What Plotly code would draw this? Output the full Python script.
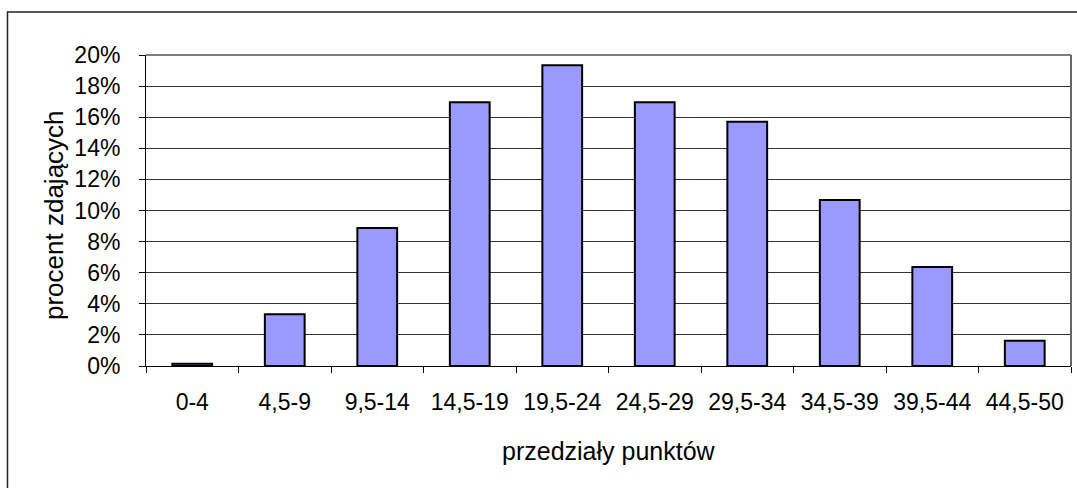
import plotly.graph_objects as go

categories = ["0-4", "4,5-9", "9,5-14", "14,5-19", "19,5-24", "24,5-29",
              "29,5-34", "34,5-39", "39,5-44", "44,5-50"]
percent_values = [0.15, 3.32, 8.87, 16.96, 19.34, 16.96, 15.71, 10.68, 6.37, 1.63]
y_ticks = [0, 2, 4, 6, 8, 10, 12, 14, 16, 18, 20]
y_tick_labels = ["0%", "2%", "4%", "6%", "8%", "10%", "12%", "14%", "16%", "18%", "20%"]
x_title = "przedziały punktów"
y_title = "procent zdających"

FONT = "Arial, Liberation Sans, sans-serif"
W, H = 1077, 488
L, R, T, B = 146, 1071, 55, 366
pw, ph = R - L, B - T

def px(x):
    return (x - L) / pw

def py(y):
    return (B - y) / ph

fig = go.Figure(go.Bar(
    x=categories, y=percent_values,
    marker=dict(color="#9999FF", line=dict(color="#000000", width=2)),
))

fig.update_layout(
    width=W, height=H,
    margin=dict(l=L, r=W - R, t=T, b=H - B, pad=0),
    paper_bgcolor="white", plot_bgcolor="white",
    bargap=0.57, showlegend=False,
    font=dict(family=FONT, size=23, color="#000000"),
    xaxis=dict(
        type="category", showgrid=False, showline=True, linecolor="#000000",
        linewidth=1, ticks="outside", tickson="boundaries", ticklen=6,
        tickcolor="#000000", ticklabelstandoff=15,
        tickfont=dict(family=FONT, size=23, color="#000000"),
    ),
    yaxis=dict(
        range=[0, 20], tickmode="array", tickvals=y_ticks, ticktext=y_tick_labels,
        showgrid=True, gridcolor="#333333", gridwidth=1, showline=True,
        linecolor="#000000", linewidth=1, ticks="outside", ticklen=6,
        tickcolor="#000000", ticklabelstandoff=14, zeroline=False,
        tickfont=dict(family=FONT, size=23, color="#000000"),
    ),
    annotations=[
        dict(text=x_title, xref="paper", yref="paper", x=px(609), y=py(451),
             showarrow=False, xanchor="center", yanchor="middle",
             font=dict(family=FONT, size=25, color="#000000")),
        dict(text=y_title, xref="paper", yref="paper", x=px(54), y=py(215),
             showarrow=False, xanchor="center", yanchor="middle", textangle=-90,
             font=dict(family=FONT, size=26, color="#000000")),
    ],
    shapes=[
        dict(type="line", xref="paper", yref="paper", x0=1, x1=1, y0=0, y1=1,
             line=dict(color="#666666", width=2)),
        dict(type="line", xref="paper", yref="paper", x0=0, x1=1, y0=1, y1=1,
             line=dict(color="#555555", width=1.5)),
        dict(type="rect", xref="paper", yref="paper",
             x0=px(7.5), x1=px(1085), y0=py(495), y1=py(12),
             line=dict(color="#222222", width=1.5), fillcolor="rgba(0,0,0,0)"),
    ],
)

fig.write_html(
    "out.html",
    config={"displayModeBar": False},
    post_script="document.body.style.margin='0';document.body.style.padding='0';",
)
